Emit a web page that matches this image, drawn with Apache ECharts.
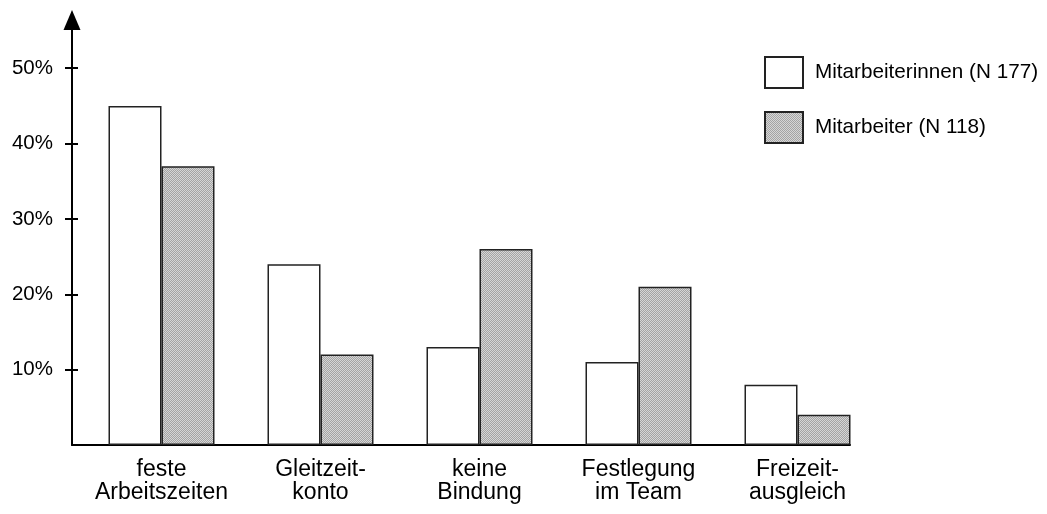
<!DOCTYPE html>
<html>
<head>
<meta charset="utf-8">
<script src="https://cdn.jsdelivr.net/npm/echarts@6/dist/echarts.min.js"></script>
<style>
html,body{margin:0;padding:0;background:#fff;}
#chart{width:1047px;height:514px;}
</style>
</head>
<body>
<div id="chart"></div>
<script>
const categories = ['feste\nArbeitszeiten', 'Gleitzeit-\nkonto', 'keine\nBindung', 'Festlegung\nim Team', 'Freizeit-\nausgleich'];
const seriesNames = ['Mitarbeiterinnen (N 177)', 'Mitarbeiter (N 118)'];
const womenValues = [45, 24, 13, 11, 8];
const menValues = [37, 12, 26, 21, 4];
const yTicks = [10, 20, 30, 40, 50];

function makePattern() {
  const c = document.createElement('canvas');
  c.width = 4; c.height = 4;
  const ctx = c.getContext('2d');
  ctx.fillStyle = '#d6d6d6';
  ctx.fillRect(0, 0, 4, 4);
  ctx.fillStyle = '#a4a4a4';
  for (let i = 0; i < 4; i++) {
    ctx.fillRect(i, (3 - i), 1, 1);
    ctx.fillRect(i, (3 - i + 2) % 4, 1, 1);
  }
  return c;
}

const FONT = 'Liberation Sans, Arial, Helvetica, sans-serif';
const YMAX = 56.4;
const chart = echarts.init(document.getElementById('chart'), null, {renderer: 'canvas'});
chart.setOption({
  animation: false,
  backgroundColor: '#ffffff',
  textStyle: {fontFamily: FONT},
  legend: {
    orient: 'vertical',
    left: 759,
    top: 51,
    itemWidth: 38,
    itemHeight: 31,
    itemGap: 22,
    icon: 'rect',
    data: seriesNames,
    textStyle: {fontSize: 20.7, color: '#000', fontFamily: FONT, padding: [0, 0, 0, 7]},
    selectedMode: false
  },
  grid: [
    {left: 82, right: 170, top: 20, bottom: 69},
    {left: 72, right: 197, top: 20, bottom: 69}
  ],
  xAxis: [
    {
      type: 'category',
      gridIndex: 0,
      data: categories,
      axisLine: {show: false},
      axisTick: {show: false},
      axisLabel: {fontSize: 23, lineHeight: 23, color: '#000', margin: 13, fontFamily: FONT, interval: 0}
    },
    {
      type: 'value',
      gridIndex: 1,
      axisLine: {show: true, onZero: false, lineStyle: {color: '#000', width: 2}},
      axisTick: {show: false},
      axisLabel: {show: false},
      splitLine: {show: false}
    }
  ],
  yAxis: [
    {
      type: 'value', gridIndex: 0, min: 0, max: YMAX, interval: 10,
      show: false, splitLine: {show: false}
    },
    {
      type: 'value', gridIndex: 1, min: 0, max: YMAX, interval: 10,
      axisLine: {show: true, lineStyle: {color: '#000', width: 2}, symbol: ['none', 'triangle'], symbolSize: [17, 20]},
      axisTick: {show: true, length: 7, lineStyle: {color: '#000', width: 2}, customValues: yTicks},
      axisLabel: {
        fontSize: 20.5, color: '#000', margin: 19, fontFamily: FONT,
        customValues: yTicks,
        formatter: function (v) { return yTicks.indexOf(v) >= 0 ? v + '%' : ''; }
      },
      splitLine: {show: false}
    },
    {
      type: 'value', gridIndex: 1, min: 0, max: YMAX, interval: 10, position: 'left',
      axisLine: {show: false},
      axisTick: {show: true, inside: true, length: 6, lineStyle: {color: '#000', width: 2}, customValues: yTicks},
      axisLabel: {show: false},
      splitLine: {show: false}
    }
  ],
  series: [
    {
      name: seriesNames[0], type: 'bar', xAxisIndex: 0, yAxisIndex: 0,
      data: womenValues, barWidth: 53, barGap: '0%',
      itemStyle: {color: '#ffffff', borderColor: '#222', borderWidth: 1.5}
    },
    {
      name: seriesNames[1], type: 'bar', xAxisIndex: 0, yAxisIndex: 0,
      data: menValues, barWidth: 53, barGap: '0%',
      itemStyle: {color: {image: makePattern(), repeat: 'repeat'}, borderColor: '#222', borderWidth: 1.5}
    }
  ]
});
</script>
</body>
</html>
